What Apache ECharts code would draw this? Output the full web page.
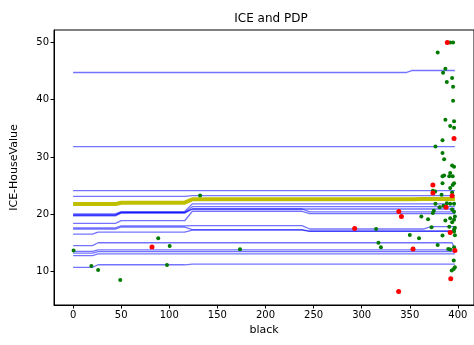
<!DOCTYPE html>
<html>
<head>
<meta charset="utf-8">
<script src="https://cdn.jsdelivr.net/npm/echarts@6/dist/echarts.min.js"></script>
<style>
  html, body { margin: 0; padding: 0; background: #fff; }
  #chart { width: 474px; height: 345px; }
</style>
</head>
<body>
<div id="chart"></div>
<script>
// Feature grid on which each ICE curve is evaluated ("black")
const gridX = [0, 20, 26, 44, 50, 116, 124, 238, 246, 346, 352, 364, 372, 394, 396.9];

// Individual conditional expectation curves (predicted house value at each grid point)
const ice01 = [44.75, 44.75, 44.75, 44.75, 44.75, 44.75, 44.75, 44.75, 44.75, 44.75, 45.1, 45.1, 45.1, 45.1, 45.1];
const ice02 = [31.8, 31.8, 31.8, 31.8, 31.8, 31.8, 31.8, 31.8, 31.8, 31.8, 31.8, 31.8, 31.8, 31.8, 31.8];
const ice03 = [24.1, 24.1, 24.1, 24.1, 24.1, 24.1, 24.1, 24.1, 24.1, 24.1, 24.1, 24.1, 24.1, 24.1, 24.1];
const ice04 = [23.1, 23.1, 23.1, 23.1, 23.1, 23.1, 23.25, 23.25, 23.25, 23.25, 23.25, 23.25, 23.25, 23.25, 23.25];
const ice05 = [20.05, 20.05, 20.05, 20.05, 20.45, 20.45, 21.8, 21.8, 21.8, 21.8, 21.8, 21.8, 21.8, 21.8, 21.8];
const ice06 = [19.9, 19.9, 19.9, 19.9, 20.3, 20.3, 21.3, 21.3, 21.3, 21.3, 21.3, 21.3, 21.3, 21.3, 21.3];
const ice07 = [19.8, 19.8, 19.8, 19.8, 20.25, 20.25, 20.9, 20.9, 20.9, 20.9, 20.9, 20.9, 20.9, 20.9, 20.9];
const ice08 = [19.7, 19.7, 19.7, 19.7, 20.2, 20.2, 20.9, 20.9, 20.4, 20.4, 20.4, 20.4, 20.4, 20.4, 20.4];
const ice09 = [18.4, 18.4, 18.4, 18.4, 18.85, 18.85, 20.5, 20.5, 20.1, 20.1, 20.1, 20.1, 20.1, 20.1, 20.1];
const ice10 = [17.6, 17.6, 17.6, 17.6, 17.95, 17.95, 18.0, 18.0, 17.4, 17.4, 17.4, 17.4, 17.8, 17.8, 17.8];
const ice11 = [17.4, 17.4, 17.4, 17.4, 17.75, 17.75, 17.3, 17.3, 17.05, 17.05, 17.05, 17.05, 17.05, 17.05, 17.05];
const ice12 = [16.5, 16.5, 16.85, 16.85, 16.85, 16.85, 17.2, 17.2, 17.0, 17.0, 17.0, 17.0, 17.0, 17.0, 17.0];
const ice13 = [14.5, 14.5, 15.0, 15.0, 15.0, 15.0, 15.0, 15.0, 15.0, 15.0, 15.0, 15.0, 15.0, 15.0, 13.9];
const ice14 = [13.5, 13.5, 13.75, 13.75, 13.75, 13.75, 13.75, 13.75, 13.75, 13.75, 13.75, 13.75, 13.75, 13.75, 13.75];
const ice15 = [13.2, 13.2, 13.45, 13.45, 13.45, 13.45, 13.45, 13.45, 13.45, 13.45, 13.45, 13.45, 13.45, 13.45, 13.45];
const ice16 = [12.75, 12.75, 13.05, 13.05, 13.05, 13.05, 13.05, 13.05, 13.05, 13.05, 13.05, 13.05, 13.05, 13.05, 13.05];
const ice17 = [10.7, 10.7, 11.15, 11.15, 11.15, 11.15, 11.25, 11.25, 11.25, 11.25, 11.25, 11.25, 11.25, 11.25, 11.25];
const iceCurves = [ice01, ice02, ice03, ice04, ice05, ice06, ice07, ice08, ice09,
                   ice10, ice11, ice12, ice13, ice14, ice15, ice16, ice17];

// Partial dependence (average of the ICE curves)
const pdp = [21.75, 21.75, 21.75, 21.75, 22.0, 22.0, 22.6, 22.6, 22.6, 22.6, 22.6, 22.65, 22.65, 22.65, 22.65];

// Observed samples: [black, HouseValue]
const greenPoints = [
  [0.5, 13.65], [19, 10.95], [26, 10.25], [49, 8.5], [88.5, 15.8], [100.4, 14.45], [97.6, 11.1],
  [132, 23.25], [173.5, 13.85], [315, 17.4], [317.4, 15.0], [320, 14.2], [350, 16.35], [359.6, 15.8],
  [362, 19.6], [369, 19.1], [372.6, 17.7], [374, 20.2], [375, 20.6], [374, 24.1], [376.4, 23.95],
  [376.7, 21.8], [376.7, 31.8], [379, 14.6], [379, 48.25], [381, 21.2], [383, 23.4], [384, 25.4],
  [384, 16.25], [384, 32.9], [384, 30.7], [384.6, 44.7], [385, 21.45], [385.7, 29.6], [384, 26.6],
  [385.7, 26.75], [387, 45.4], [387, 36.5], [387, 18.9], [388.5, 43.1], [388.5, 21.9], [390, 13.9],
  [391, 17.8], [391, 26.6], [392, 50], [392, 35.4], [392, 27.2], [392, 24.55], [392, 21.8], [392, 19.3],
  [392, 13.8], [393.6, 10.15], [394, 43.8], [394, 28.5], [394.6, 26.6], [394.6, 25.1], [394, 23.8],
  [394, 20.8], [395, 50], [395, 42.25], [395, 39.8], [395.7, 11.9], [395.7, 10.4], [396, 36.25],
  [396, 35.1], [396, 28.3], [396, 25.4], [396, 21.8], [396, 20.4], [396, 17.3], [396, 16.95],
  [396, 14.2], [396.9, 19.6], [396.9, 17.6], [396.9, 16.3], [396.9, 10.7], [396, 19.0], [394, 18.6]
];
const redPoints = [
  [82, 14.25], [292.7, 17.5], [338.4, 6.5], [338.6, 20.45], [341.3, 19.6], [353.4, 13.9],
  [374, 25.1], [374, 23.7], [387.7, 21.2], [389, 50], [392, 16.8], [392.6, 8.7], [394, 23.2],
  [396, 33.2], [396.9, 13.65]
];

const xTicks = [0, 50, 100, 150, 200, 250, 300, 350, 400];
const yTicks = [10, 20, 30, 40, 50];

const font = 'DejaVu Sans';

const toPairs = vals => gridX.map((x, i) => [x, vals[i]]);

const series = [];
iceCurves.forEach((vals, k) => {
  series.push({
    name: 'ice' + (k + 1),
    type: 'line',
    data: toPairs(vals),
    symbol: 'none',
    silent: true,
    z: 2,
    lineStyle: { color: '#0000ff', width: 1.3, opacity: 0.55 }
  });
});
series.push({
  name: 'PDP',
  type: 'line',
  data: toPairs(pdp),
  symbol: 'none',
  silent: true,
  z: 3,
  lineStyle: { color: '#bfbf00', width: 4 }
});
series.push({
  name: 'green',
  type: 'scatter',
  data: greenPoints,
  symbolSize: 4,
  z: 4,
  itemStyle: { color: '#007a00', opacity: 1 }
});
series.push({
  name: 'red',
  type: 'scatter',
  data: redPoints,
  symbolSize: 5,
  z: 4,
  itemStyle: { color: '#ff0000', opacity: 1 }
});

const axisCommon = {
  axisLine: { show: true, onZero: false, lineStyle: { color: '#000', width: 1 } },
  axisTick: { show: true, length: 3.5, lineStyle: { color: '#000' } },
  splitLine: { show: false },
  nameTextStyle: { fontFamily: font, fontSize: 11, color: '#000' },
  axisLabel: { fontFamily: font, fontSize: 10, color: '#000', margin: 5 }
};

const chart = echarts.init(document.getElementById('chart'), null, { renderer: 'canvas' });
chart.setOption({
  animation: false,
  backgroundColor: '#fff',
  title: {
    text: 'ICE and PDP',
    left: 266,
    textAlign: 'center',
    top: 8,
    textStyle: { fontFamily: font, fontSize: 12, fontWeight: 'normal', color: '#000' }
  },
  grid: {
    left: 54, top: 30, width: 424, height: 275,
    show: true, borderColor: '#000', borderWidth: 1, backgroundColor: 'transparent'
  },
  xAxis: Object.assign({}, axisCommon, {
    type: 'value',
    min: -19.85, max: 416.75,
    name: 'black',
    nameLocation: 'middle',
    nameGap: 20,
    axisTick: Object.assign({}, axisCommon.axisTick, { customValues: xTicks }),
    axisLabel: Object.assign({}, axisCommon.axisLabel, { customValues: xTicks })
  }),
  yAxis: Object.assign({}, axisCommon, {
    type: 'value',
    min: 4.12, max: 52.18,
    name: 'ICE-HouseValue',
    nameLocation: 'middle',
    nameGap: 34,
    axisTick: Object.assign({}, axisCommon.axisTick, { customValues: yTicks }),
    axisLabel: Object.assign({}, axisCommon.axisLabel, { customValues: yTicks })
  }),
  series: series
});
</script>
</body>
</html>
